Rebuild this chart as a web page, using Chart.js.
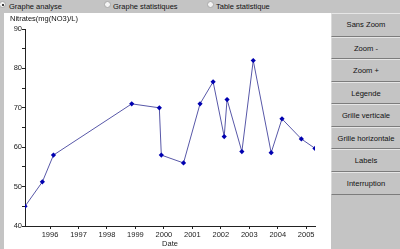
<!DOCTYPE html>
<html><head><meta charset="utf-8">
<script src="https://cdn.jsdelivr.net/npm/chart.js@4"></script>
<style>
html,body{margin:0;padding:0;}
body{width:400px;height:249px;position:relative;overflow:hidden;background:#c4c4c4;font-family:"Liberation Sans",Arial,sans-serif;color:#111;}
#top{position:absolute;left:0;top:0;width:400px;height:13px;background:#c4c4c4;font-size:7.5px;}
.opt{position:absolute;top:2px;line-height:9px;white-space:nowrap;}
.rad{position:absolute;top:1px;width:7px;height:7px;border-radius:50%;background:#f4f4f4;box-sizing:border-box;border:1px solid #a8a8a8;}
.rad.on::after{content:"";position:absolute;left:1.5px;top:1.5px;width:2px;height:2px;border-radius:50%;background:#000;}
#white{position:absolute;left:4px;top:13px;width:327px;height:236px;background:#fff;}
#ytitle{position:absolute;left:10px;top:14px;font-size:7.5px;line-height:9px;color:#111;white-space:nowrap;}
#panel{position:absolute;left:331px;top:13px;width:69px;height:236px;background:#c4c4c4;}
.btn{height:22.6px;box-sizing:border-box;border-bottom:1px solid #7c7c7c;border-top:1px solid #e6e6e6;border-left:1px solid #dadada;text-align:center;font-size:7.6px;line-height:21px;color:#111;white-space:nowrap;}
.btn.first{height:23.5px;line-height:22px;}
</style></head>
<body>
<div id="top">
  <span class="rad on" style="left:-1px"></span><span class="opt" style="left:9px">Graphe analyse</span>
  <span class="rad" style="left:104px"></span><span class="opt" style="left:113px">Graphe statistiques</span>
  <span class="rad" style="left:207px"></span><span class="opt" style="left:216px">Table statistique</span>
</div>
<div id="white"><canvas id="c" width="327" height="236"></canvas></div>
<div id="ytitle">Nitrates(mg(NO3)/L)</div>
<div id="panel">
  <div class="btn first">Sans Zoom</div>
  <div class="btn">Zoom -</div>
  <div class="btn">Zoom +</div>
  <div class="btn">Légende</div>
  <div class="btn">Grille verticale</div>
  <div class="btn">Grille horizontale</div>
  <div class="btn">Labels</div>
  <div class="btn">Interruption</div>
</div>
<script>
const dates = [1995.12, 1995.73, 1996.12, 1998.87, 1999.84, 1999.91, 2000.69, 2001.27, 2001.73, 2002.12, 2002.22, 2002.74, 2003.14, 2003.77, 2004.15, 2004.83, 2005.31];
const nitrates = [45, 51.2, 58, 71, 70, 58, 56, 71, 76.6, 62.7, 72.1, 58.9, 82, 58.6, 67.2, 62.1, 59.7];
const yearTicks = [1996, 1997, 1998, 1999, 2000, 2001, 2002, 2003, 2004, 2005];
const yMin = 40, yMax = 90;
const xTitle = 'Date';

const points = dates.map((d, i) => ({x: d, y: nitrates[i]}));
const font = {family: '"Liberation Sans", Arial, sans-serif', size: 7.5};

new Chart(document.getElementById('c'), {
  type: 'line',
  data: {datasets: [{
    data: points,
    borderColor: '#5858a8',
    borderWidth: 1,
    backgroundColor: '#0000b0',
    pointBackgroundColor: '#0000b0',
    pointBorderColor: '#0000b0',
    pointStyle: 'rectRot',
    pointRadius: 2.6,
    pointBorderWidth: 0,
    tension: 0
  }]},
  options: {
    responsive: false,
    animation: false,
    layout: {padding: {left: 0, top: 16, right: 16, bottom: 0}},
    plugins: {legend: {display: false}, tooltip: {enabled: false}},
    scales: {
      x: {
        type: 'linear',
        bounds: 'data',
        min: dates[0],
        max: dates[dates.length - 1],
        afterBuildTicks: s => { s.ticks = yearTicks.map(v => ({value: v})); },
        afterFit: s => { s.height = 23; },
        border: {color: '#222', width: 1},
        grid: {drawOnChartArea: false, drawTicks: true, tickLength: 3, color: '#222'},
        ticks: {autoSkip: false, padding: 1, color: '#222', font: font, maxRotation: 0,
          callback: v => String(v)},
        title: {display: true, text: xTitle, color: '#222', font: font, padding: {top: 0, bottom: 1}}
      },
      y: {
        min: yMin, max: yMax,
        afterFit: s => { s.width = 21; },
        border: {color: '#222', width: 1},
        grid: {drawOnChartArea: false, drawTicks: true, tickLength: 3, color: '#222'},
        ticks: {stepSize: 5, autoSkip: false, padding: 0, color: '#222', font: font,
          callback: v => (v % 10 === 0 ? String(v) : '')}
      }
    }
  }
});
</script>
</body></html>
